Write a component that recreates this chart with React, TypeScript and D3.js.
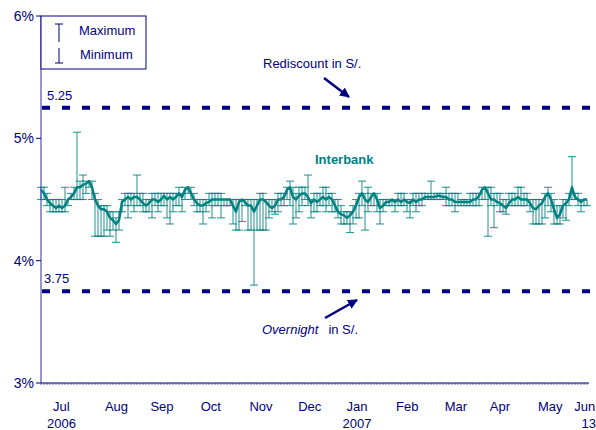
import React, { useEffect, useRef } from 'react';
import * as d3 from 'd3';

// daily interbank rate (%), average / max / min, Jul 2006 - Jun 13 2007
const average = [
  4.58, 4.55, 4.5, 4.47, 4.45, 4.43, 4.45, 4.43, 4.45, 4.5,
  4.52, 4.55, 4.6, 4.6, 4.62, 4.63,
  4.65, 4.6, 4.5, 4.45, 4.42, 4.42, 4.4, 4.35, 4.33, 4.3, 4.33, 4.48, 4.5, 4.52,
  4.5, 4.52, 4.52, 4.5, 4.47, 4.45, 4.47, 4.5, 4.5, 4.48,
  4.5, 4.53, 4.5, 4.52, 4.5, 4.52, 4.55, 4.52, 4.58, 4.6,
  4.55, 4.5, 4.47, 4.45, 4.45, 4.47, 4.48, 4.5, 4.5, 4.5,
  4.5, 4.5, 4.5, 4.5, 4.45, 4.4, 4.48, 4.5, 4.48, 4.45,
  4.45, 4.4, 4.45, 4.5, 4.5, 4.48, 4.45, 4.43, 4.45, 4.5,
  4.5, 4.52, 4.58, 4.6, 4.52, 4.5, 4.53, 4.55, 4.55, 4.52,
  4.47, 4.5, 4.48, 4.5, 4.52, 4.5, 4.52, 4.5, 4.45, 4.4,
  4.38, 4.37, 4.35, 4.37, 4.4, 4.45, 4.52, 4.55, 4.5, 4.48,
  4.52, 4.55, 4.5, 4.43, 4.45, 4.48, 4.48, 4.5, 4.48, 4.5,
  4.48, 4.5, 4.48, 4.47, 4.5, 4.48, 4.5, 4.5, 4.52, 4.52,
  4.52, 4.52, 4.53, 4.53, 4.52, 4.52, 4.5, 4.5, 4.48, 4.48,
  4.48, 4.48, 4.48, 4.48, 4.5, 4.5, 4.53, 4.58, 4.6, 4.55,
  4.5, 4.5, 4.48, 4.47, 4.45, 4.43, 4.47, 4.5, 4.5, 4.52,
  4.5, 4.5, 4.5, 4.47, 4.43, 4.42, 4.45, 4.47, 4.52, 4.55,
  4.5, 4.42, 4.35, 4.38, 4.45, 4.47, 4.5, 4.6, 4.52, 4.5, 4.48, 4.5, 4.5
];

const maximum = [
  4.6, 4.6, 4.55, 4.5, 4.5, 4.5, 4.5, 4.5, 4.6, 4.5,
  4.55, 4.6, 5.05, 4.65, 4.7, 4.65,
  4.65, 4.65, 4.55, 4.5, 4.45, 4.45, 4.45, 4.4, 4.4, 4.35, 4.4, 4.5, 4.55, 4.55,
  4.55, 4.55, 4.7, 4.55, 4.55, 4.5, 4.5, 4.55, 4.55, 4.55,
  4.55, 4.55, 4.55, 4.55, 4.55, 4.55, 4.6, 4.55, 4.6, 4.6,
  4.6, 4.55, 4.5, 4.5, 4.5, 4.5, 4.55, 4.55, 4.55, 4.55,
  4.55, 4.5, 4.5, 4.5, 4.5, 4.5, 4.5, 4.5, 4.5, 4.5,
  4.5, 4.5, 4.5, 4.55, 4.55, 4.5, 4.5, 4.5, 4.5, 4.55,
  4.55, 4.55, 4.6, 4.65, 4.6, 4.55, 4.6, 4.6, 4.6, 4.7,
  4.5, 4.55, 4.55, 4.55, 4.6, 4.6, 4.55, 4.55, 4.5, 4.5,
  4.45, 4.4, 4.4, 4.4, 4.45, 4.5, 4.55, 4.65, 4.55, 4.6,
  4.55, 4.55, 4.55, 4.5, 4.5, 4.5, 4.5, 4.5, 4.5, 4.55,
  4.55, 4.55, 4.5, 4.5, 4.55, 4.55, 4.55, 4.55, 4.55, 4.55,
  4.65, 4.55, 4.55, 4.55, 4.55, 4.6, 4.55, 4.55, 4.55, 4.55,
  4.5, 4.5, 4.5, 4.55, 4.55, 4.55, 4.55, 4.6, 4.6, 4.6,
  4.6, 4.55, 4.55, 4.55, 4.5, 4.5, 4.55, 4.55, 4.55, 4.6,
  4.6, 4.55, 4.55, 4.5, 4.5, 4.5, 4.5, 4.5, 4.55, 4.6,
  4.55, 4.5, 4.45, 4.45, 4.5, 4.5, 4.55, 4.85, 4.55, 4.55, 4.5, 4.5, 4.5
];

const minimum = [
  4.5, 4.5, 4.45, 4.4, 4.4, 4.4, 4.4, 4.4, 4.4, 4.45,
  4.5, 4.5, 4.5, 4.5, 4.5, 4.55,
  4.6, 4.5, 4.2, 4.2, 4.2, 4.2, 4.25, 4.2, 4.25, 4.15, 4.25, 4.4, 4.45, 4.35,
  4.45, 4.4, 4.45, 4.45, 4.4, 4.4, 4.4, 4.35, 4.45, 4.4,
  4.45, 4.45, 4.35, 4.3, 4.4, 4.45, 4.45, 4.4, 4.5, 4.55,
  4.5, 4.45, 4.4, 4.4, 4.3, 4.4, 4.45, 4.35, 4.45, 4.45,
  4.35, 4.45, 4.45, 4.45, 4.3, 4.25, 4.25, 4.32, 4.45, 4.25,
  4.25, 3.8, 4.25, 4.25, 4.25, 4.25, 4.35, 4.4, 4.38, 4.4,
  4.45, 4.45, 4.5, 4.45, 4.3, 4.35, 4.4, 4.45, 4.5, 4.45,
  4.35, 4.4, 4.4, 4.45, 4.45, 4.4, 4.45, 4.4, 4.4, 4.35,
  4.3, 4.3, 4.3, 4.23, 4.3, 4.35, 4.35, 4.45, 4.25, 4.4,
  4.45, 4.45, 4.4, 4.3, 4.4, 4.45, 4.45, 4.45, 4.4, 4.45,
  4.45, 4.45, 4.4, 4.35, 4.45, 4.4, 4.45, 4.45, 4.5, 4.5,
  4.5, 4.5, 4.5, 4.5, 4.5, 4.45, 4.45, 4.45, 4.4, 4.45,
  4.45, 4.45, 4.45, 4.45, 4.45, 4.45, 4.45, 4.5, 4.5, 4.2,
  4.45, 4.27, 4.45, 4.4, 4.4, 4.38, 4.45, 4.45, 4.45, 4.45,
  4.45, 4.45, 4.45, 4.4, 4.3, 4.3, 4.3, 4.3, 4.35, 4.45,
  4.4, 4.3, 4.3, 4.3, 4.35, 4.33, 4.45, 4.5, 4.5, 4.45, 4.4, 4.45, 4.45
];

const yTicks = [3, 4, 5, 6];
const rediscount = 5.25;
const overnight = 3.75;

const monthLabels = [
  { label: 'Jul', year: '2006', date: '2006-07-14' },
  { label: 'Aug', year: '', date: '2006-08-18' },
  { label: 'Sep', year: '', date: '2006-09-16' },
  { label: 'Oct', year: '', date: '2006-10-17' },
  { label: 'Nov', year: '', date: '2006-11-18' },
  { label: 'Dec', year: '', date: '2006-12-19' },
  { label: 'Jan', year: '2007', date: '2007-01-18' },
  { label: 'Feb', year: '', date: '2007-02-19' },
  { label: 'Mar', year: '', date: '2007-03-22' },
  { label: 'Apr', year: '', date: '2007-04-19' },
  { label: 'May', year: '', date: '2007-05-21' },
  { label: 'Jun', year: '13', date: '2007-06-12' }
];

const NAVY = '#000080';
const TEAL = '#008080';
const FONT = '"Liberation Sans", Arial, sans-serif';

const App: React.FC = () => {
  const svgRef = useRef<SVGSVGElement>(null);

  useEffect(() => {
    if (!svgRef.current) return;
    const svg = d3.select(svgRef.current);
    svg.selectAll('*').remove();

    const left = 41, right = 587, top = 16, bottom = 383;

    const y = d3.scaleLinear().domain([3, 6]).range([bottom, top]);
    const x = d3.scaleLinear().domain([0, average.length - 1]).range([left, right]);
    const xDate = d3.scaleTime()
      .domain([new Date(2006, 6, 1), new Date(2007, 5, 14)])
      .range([left, 588]);

    // reference lines
    [rediscount, overnight].forEach(v => {
      svg.append('line')
        .attr('x1', left + 1).attr('x2', 590)
        .attr('y1', y(v)).attr('y2', y(v))
        .attr('stroke', NAVY)
        .attr('stroke-width', 4)
        .attr('stroke-dasharray', '8,12');
    });

    svg.append('text')
      .attr('x', 47).attr('y', y(rediscount) - 8)
      .attr('font-family', FONT).attr('font-size', 13).attr('fill', NAVY)
      .text('5.25');
    svg.append('text')
      .attr('x', 44).attr('y', y(overnight) - 8)
      .attr('font-family', FONT).attr('font-size', 13).attr('fill', NAVY)
      .text('3.75');

    // error bars
    const bars = svg.append('g')
      .attr('stroke', TEAL)
      .attr('stroke-opacity', 0.8)
      .attr('stroke-width', 1.1);
    average.forEach((_, i) => {
      const cx = x(i);
      bars.append('line')
        .attr('x1', cx).attr('x2', cx)
        .attr('y1', y(maximum[i])).attr('y2', y(minimum[i]));
      if (maximum[i] > average[i]) {
        bars.append('line')
          .attr('x1', cx - 4).attr('x2', cx + 4)
          .attr('y1', y(maximum[i])).attr('y2', y(maximum[i]));
      }
      if (minimum[i] < average[i]) {
        bars.append('line')
          .attr('x1', cx - 4).attr('x2', cx + 4)
          .attr('y1', y(minimum[i])).attr('y2', y(minimum[i]));
      }
    });

    // average line
    const line = d3.line<number>()
      .x((_, i) => x(i))
      .y(d => y(d));
    svg.append('path')
      .datum(average)
      .attr('fill', 'none')
      .attr('stroke', TEAL)
      .attr('stroke-width', 2.5)
      .attr('stroke-linejoin', 'round')
      .attr('d', line);

    // axes
    svg.append('line')
      .attr('x1', left).attr('x2', left)
      .attr('y1', top).attr('y2', bottom)
      .attr('stroke', '#5050b0').attr('stroke-width', 1.2);
    svg.append('line')
      .attr('x1', left).attr('x2', right + 2)
      .attr('y1', bottom).attr('y2', bottom)
      .attr('stroke', NAVY).attr('stroke-width', 1.2);
    average.forEach((_, i) => {
      svg.append('line')
        .attr('x1', x(i)).attr('x2', x(i))
        .attr('y1', bottom).attr('y2', bottom + 2)
        .attr('stroke', NAVY).attr('stroke-width', 0.6);
    });

    yTicks.forEach(t => {
      svg.append('line')
        .attr('x1', left - 5).attr('x2', left)
        .attr('y1', y(t)).attr('y2', y(t))
        .attr('stroke', NAVY);
      svg.append('text')
        .attr('x', 34).attr('y', y(t) + 5)
        .attr('text-anchor', 'end')
        .attr('font-family', FONT).attr('font-size', 14).attr('fill', NAVY)
        .text(`${t}%`);
    });

    monthLabels.forEach(m => {
      const mx = xDate(new Date(m.date + 'T00:00:00'));
      svg.append('text')
        .attr('x', mx).attr('y', 411)
        .attr('text-anchor', 'middle')
        .attr('font-family', FONT).attr('font-size', 13).attr('fill', NAVY)
        .text(m.label);
      if (m.year) {
        svg.append('text')
          .attr('x', m.label === 'Jun' ? mx + 4 : mx).attr('y', 428)
          .attr('text-anchor', 'middle')
          .attr('font-family', FONT).attr('font-size', 13).attr('fill', NAVY)
          .text(m.year);
      }
    });

    // legend
    const lg = svg.append('g');
    lg.append('rect')
      .attr('x', left).attr('y', top).attr('width', 105).attr('height', 53)
      .attr('fill', 'white').attr('stroke', NAVY).attr('stroke-width', 1);
    lg.append('line').attr('x1', 59).attr('x2', 59).attr('y1', 24).attr('y2', 42).attr('stroke', NAVY);
    lg.append('line').attr('x1', 55).attr('x2', 63).attr('y1', 24).attr('y2', 24).attr('stroke', NAVY);
    lg.append('line').attr('x1', 59).attr('x2', 59).attr('y1', 48).attr('y2', 63).attr('stroke', NAVY);
    lg.append('line').attr('x1', 55).attr('x2', 63).attr('y1', 63).attr('y2', 63).attr('stroke', NAVY);
    lg.append('text').attr('x', 79).attr('y', 35)
      .attr('font-family', FONT).attr('font-size', 13).attr('fill', NAVY).text('Maximum');
    lg.append('text').attr('x', 80).attr('y', 59)
      .attr('font-family', FONT).attr('font-size', 13).attr('fill', NAVY).text('Minimum');

    // annotations
    const defs = svg.append('defs');
    defs.append('marker')
      .attr('id', 'arrow')
      .attr('viewBox', '0 0 10 10')
      .attr('refX', 9).attr('refY', 5)
      .attr('markerWidth', 4).attr('markerHeight', 4)
      .attr('orient', 'auto')
      .append('path').attr('d', 'M0,0L10,5L0,10Z').attr('fill', NAVY);

    svg.append('text')
      .attr('x', 263).attr('y', 68)
      .attr('font-family', FONT).attr('font-size', 13).attr('fill', NAVY)
      .text('Rediscount in S/.');
    svg.append('line')
      .attr('x1', 324).attr('y1', 78).attr('x2', 349).attr('y2', 97)
      .attr('stroke', NAVY).attr('stroke-width', 2.5)
      .attr('marker-end', 'url(#arrow)');

    const ov = svg.append('text')
      .attr('x', 262).attr('y', 334)
      .attr('font-family', FONT).attr('font-size', 13).attr('fill', NAVY);
    ov.append('tspan').attr('font-style', 'italic').text('Overnight');
    ov.append('tspan').attr('dx', 10).text('in S/.');
    svg.append('line')
      .attr('x1', 325).attr('y1', 318).attr('x2', 357).attr('y2', 300)
      .attr('stroke', NAVY).attr('stroke-width', 2.5)
      .attr('marker-end', 'url(#arrow)');

    svg.append('text')
      .attr('x', 315).attr('y', 164)
      .attr('font-family', FONT).attr('font-size', 13).attr('font-weight', 'bold')
      .attr('fill', TEAL)
      .text('Interbank');
  }, []);

  return (
    <svg
      ref={svgRef}
      width={596}
      height={430}
      style={{ position: 'absolute', left: 0, top: 0, background: 'white' }}
    />
  );
};

export default App;
